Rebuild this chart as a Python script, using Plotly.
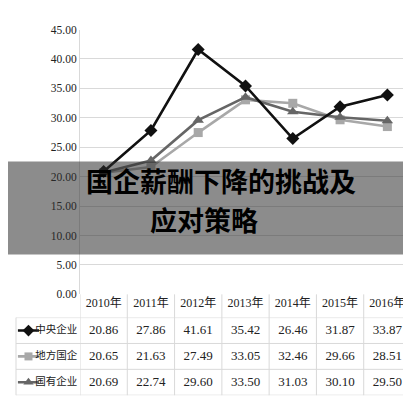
import plotly.graph_objects as go

years = ["2010年", "2011年", "2012年", "2013年", "2014年", "2015年", "2016年"]
series_names = ["中央企业", "地方国企", "国有企业"]
central = [20.86, 27.86, 41.61, 35.42, 26.46, 31.87, 33.87]
local = [20.65, 21.63, 27.49, 33.05, 32.46, 29.66, 28.51]
state = [20.69, 22.74, 29.60, 33.50, 31.03, 30.10, 29.50]
y_ticks = [0, 5, 10, 15, 20, 25, 30, 35, 40, 45]
title_lines = ["国企薪酬下降的挑战及", "应对策略"]

W, H = 411, 400
def px_x(v): return v / W
def px_y(v): return 1 - v / H

colors = {"中央企业": "#111111", "地方国企": "#a8a8a8", "国有企业": "#666666"}
symbols = {"中央企业": "diamond", "地方国企": "square", "国有企业": "triangle-up"}
sizes = {"中央企业": 10, "地方国企": 9, "国有企业": 10}
values = {"中央企业": central, "地方国企": local, "国有企业": state}

serif = "Liberation Serif, Noto Sans CJK SC, serif"

fig = go.Figure()

for name in ["地方国企", "国有企业", "中央企业"]:
    fig.add_trace(go.Scatter(
        x=years, y=values[name], mode="lines+markers", name=name,
        line=dict(color=colors[name], width=2.6),
        marker=dict(symbol=symbols[name], size=sizes[name], color=colors[name]),
        xaxis="x", yaxis="y", showlegend=False, cliponaxis=False))

for name in series_names:
    fig.add_trace(go.Scatter(
        x=years, y=[name] * len(years), mode="text",
        text=[f"{v:.2f}" for v in values[name]],
        textfont=dict(family=serif, size=13, color="#222222"),
        xaxis="x2", yaxis="y2", showlegend=False, hoverinfo="skip"))

for name in series_names:
    fig.add_trace(go.Scatter(
        x=[0.3, 3.6], y=[name, name], mode="lines",
        line=dict(color=colors[name], width=2.6),
        xaxis="x3", yaxis="y2", showlegend=False, hoverinfo="skip", cliponaxis=False))
    fig.add_trace(go.Scatter(
        x=[1.95], y=[name], mode="markers",
        marker=dict(symbol=symbols[name], size=sizes[name] - 1, color=colors[name]),
        xaxis="x3", yaxis="y2", showlegend=False, hoverinfo="skip", cliponaxis=False))
    fig.add_trace(go.Scatter(
        x=[3.0], y=[name], mode="text", text=[name], textposition="middle right",
        textfont=dict(family="Noto Sans CJK SC", size=10.5, color="#222222"),
        xaxis="x3", yaxis="y2", showlegend=False, hoverinfo="skip", cliponaxis=False))

x_dom = [px_x(72), px_x(403)]
grid = "#d9d9d9"

fig.update_layout(
    width=W, height=H, margin=dict(l=0, r=0, t=0, b=0),
    paper_bgcolor="white", plot_bgcolor="white",
    xaxis=dict(domain=x_dom, type="category", categoryarray=years, range=[-0.5, 6.5],
               showgrid=False, showline=False, zeroline=False, ticks="",
               tickfont=dict(family=serif, size=12, color="#222222"), anchor="y"),
    yaxis=dict(domain=[px_y(289), px_y(16)], range=[0, 45], tickvals=y_ticks,
               tickformat=".2f", showgrid=True, gridcolor=grid, gridwidth=1,
               showline=True, linecolor=grid, zeroline=False, ticks="",
               tickfont=dict(family=serif, size=11.5, color="#222222"), anchor="x"),
    xaxis2=dict(domain=x_dom, type="category", categoryarray=years, range=[-0.5, 6.5],
                visible=False, anchor="y2"),
    yaxis2=dict(domain=[px_y(393), px_y(313)], type="category", categoryarray=series_names,
                range=[2.5, -0.5], visible=False, anchor="x2"),
    xaxis3=dict(domain=[px_x(8), px_x(72)], range=[0, 10], visible=False, anchor="y2"),
)

shapes = []
for yv in [-0.5, 0.5, 1.5, 2.5]:
    shapes.append(dict(type="line", xref="paper", yref="y2", x0=px_x(8), x1=px_x(403),
                       y0=yv, y1=yv, line=dict(color=grid, width=1), layer="below"))
for k in range(len(years) + 1):
    shapes.append(dict(type="line", xref="x2", yref="paper", x0=k - 0.5, x1=k - 0.5,
                       y0=px_y(393), y1=px_y(289), line=dict(color=grid, width=1), layer="below"))
shapes.append(dict(type="line", xref="paper", yref="paper", x0=px_x(8), x1=px_x(8),
                   y0=px_y(393), y1=px_y(313), line=dict(color=grid, width=1), layer="below"))
shapes.append(dict(type="rect", xref="paper", yref="paper", x0=0, x1=1,
                   y0=px_y(248), y1=px_y(152), fillcolor="rgba(45,45,45,0.55)",
                   line=dict(width=0), layer="above"))
fig.update_layout(shapes=shapes)

title_pos = [(213, 171), (196, 211)]
for line, (tx, ty) in zip(title_lines, title_pos):
    fig.add_annotation(x=px_x(tx), y=px_y(ty), xref="paper", yref="paper",
                       text=line, showarrow=False, xanchor="center", yanchor="middle",
                       height=32, borderpad=0,
                       font=dict(family="Noto Sans CJK SC", size=27, color="#000000",
                                 weight="bold"))

fig.write_html("out.html")
